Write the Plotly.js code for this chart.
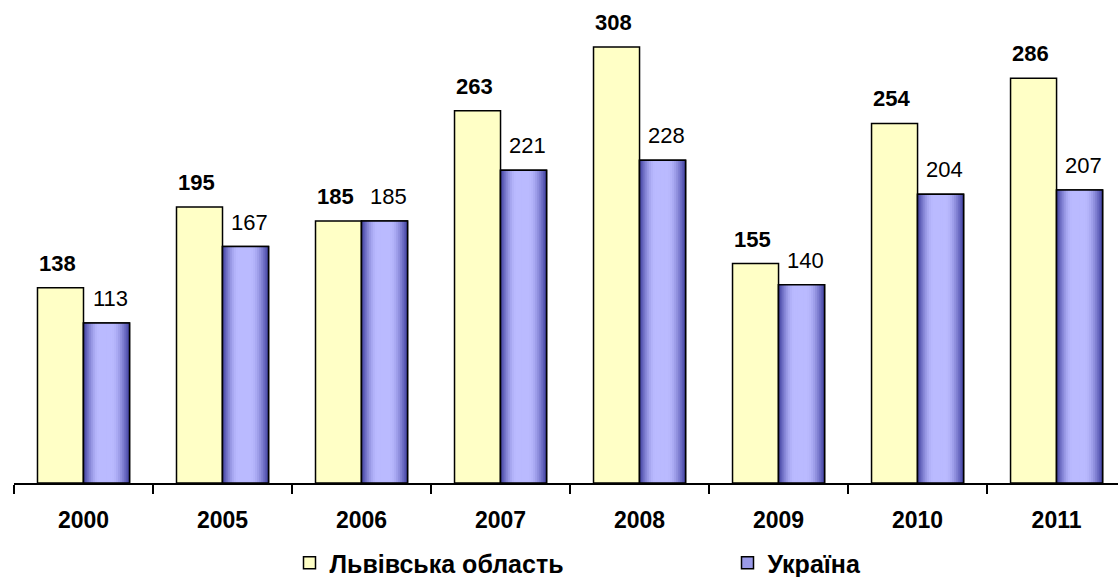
<!DOCTYPE html>
<html>
<head>
<meta charset="utf-8">
<script src="https://cdn.plot.ly/plotly-3.0.1.min.js"></script>
<style>html,body{margin:0;padding:0;background:#fff;}#chart{width:1118px;height:577px;}</style>
</head>
<body>
<div id="chart"></div>
<script>
const years = ['2000','2005','2006','2007','2008','2009','2010','2011'];
const lviv = [138,195,185,263,308,155,254,286];
const ukraine = [113,167,185,221,228,140,204,207];
const seriesNames = ['Львівська область','Україна'];

const FONT = 'Liberation Sans, Arial, sans-serif';
const BW = 0.331;           // bar width in category units
const yellow = '#FFFFC6';
const dark = [62,62,158], light = [186,186,255];

function gradColor(t){
  let f;
  if (t < 0.35) f = Math.sin((t/0.35)*Math.PI/2);
  else if (t < 0.6) f = 1;
  else f = Math.cos(((t-0.6)/0.4)*Math.PI/2);
  const c = dark.map((d,i)=>Math.round(d + f*(light[i]-d)));
  return 'rgb('+c.join(',')+')';
}

const traces = [];
traces.push({
  type:'bar', name: seriesNames[0], x: years, y: lviv,
  offset: -BW, width: BW, legend:'legend',
  marker:{color: yellow, line:{color:'#000', width:1.5}},
  hoverinfo:'skip'
});
traces.push({
  type:'bar', name: seriesNames[1], x: years, y: ukraine,
  offset: 0, width: BW, legend:'legend2',
  marker:{color: '#9a9ae8', line:{color:'#000', width:1.5}},
  hoverinfo:'skip'
});
const N = 24, sw = BW/N;
for (let i=0;i<N;i++){
  const w = Math.min(sw*1.6, BW - i*sw);
  traces.push({
    type:'bar', x: years, y: ukraine, showlegend:false,
    offset: i*sw, width: w,
    marker:{color: gradColor((i+0.5)/N), line:{width:0}},
    hoverinfo:'skip'
  });
}
traces.push({
  type:'bar', x: years, y: ukraine, showlegend:false,
  offset: 0, width: BW,
  marker:{color:'rgba(0,0,0,0)', line:{color:'#000', width:1.5}},
  hoverinfo:'skip'
});

const annotations = [];
years.forEach((yr,i)=>{
  annotations.push({x: i, y: lviv[i], xref:'x', yref:'y', text: '<b>'+lviv[i]+'</b>',
    showarrow:false, xanchor:'center', yanchor:'bottom', xshift:-26, yshift:10,
    font:{family:FONT, size:22, color:'#000'}});
  annotations.push({x: i, y: ukraine[i], xref:'x', yref:'y', text: String(ukraine[i]),
    showarrow:false, xanchor:'center', yanchor:'bottom', xshift:27, yshift:10,
    font:{family:FONT, size:22, color:'#000'}});
});

const legendFont = {family:FONT, size:25, color:'#000', weight:'bold'};
const layout = {
  width:1118, height:577,
  margin:{l:14, r:0, t:0, b:94, autoexpand:false},
  paper_bgcolor:'#fff', plot_bgcolor:'#fff',
  barmode:'overlay',
  font:{family:FONT, color:'#000'},
  xaxis:{type:'category', range:[-0.5, 7.442], showgrid:false, zeroline:false,
    showline:true, linecolor:'#000', linewidth:1.5,
    ticks:'outside', tickson:'boundaries', ticklen:9, tickwidth:1.5, tickcolor:'#000',
    ticklabelstandoff:16,
    tickfont:{family:FONT, size:23, color:'#000', weight:'bold'}},
  yaxis:{range:[0,341.2], visible:false, showgrid:false, zeroline:false},
  showlegend:true,
  legend:{orientation:'h', x:(289.5-14)/1104, xanchor:'left', y:-80/483, yanchor:'middle',
    bgcolor:'rgba(0,0,0,0)', font:legendFont},
  legend2:{orientation:'h', x:(727.5-14)/1104, xanchor:'left', y:-80/483, yanchor:'middle',
    bgcolor:'rgba(0,0,0,0)', font:legendFont},
  annotations: annotations
};

Plotly.newPlot('chart', traces, layout, {displayModeBar:false, staticPlot:true});
</script>
</body>
</html>
